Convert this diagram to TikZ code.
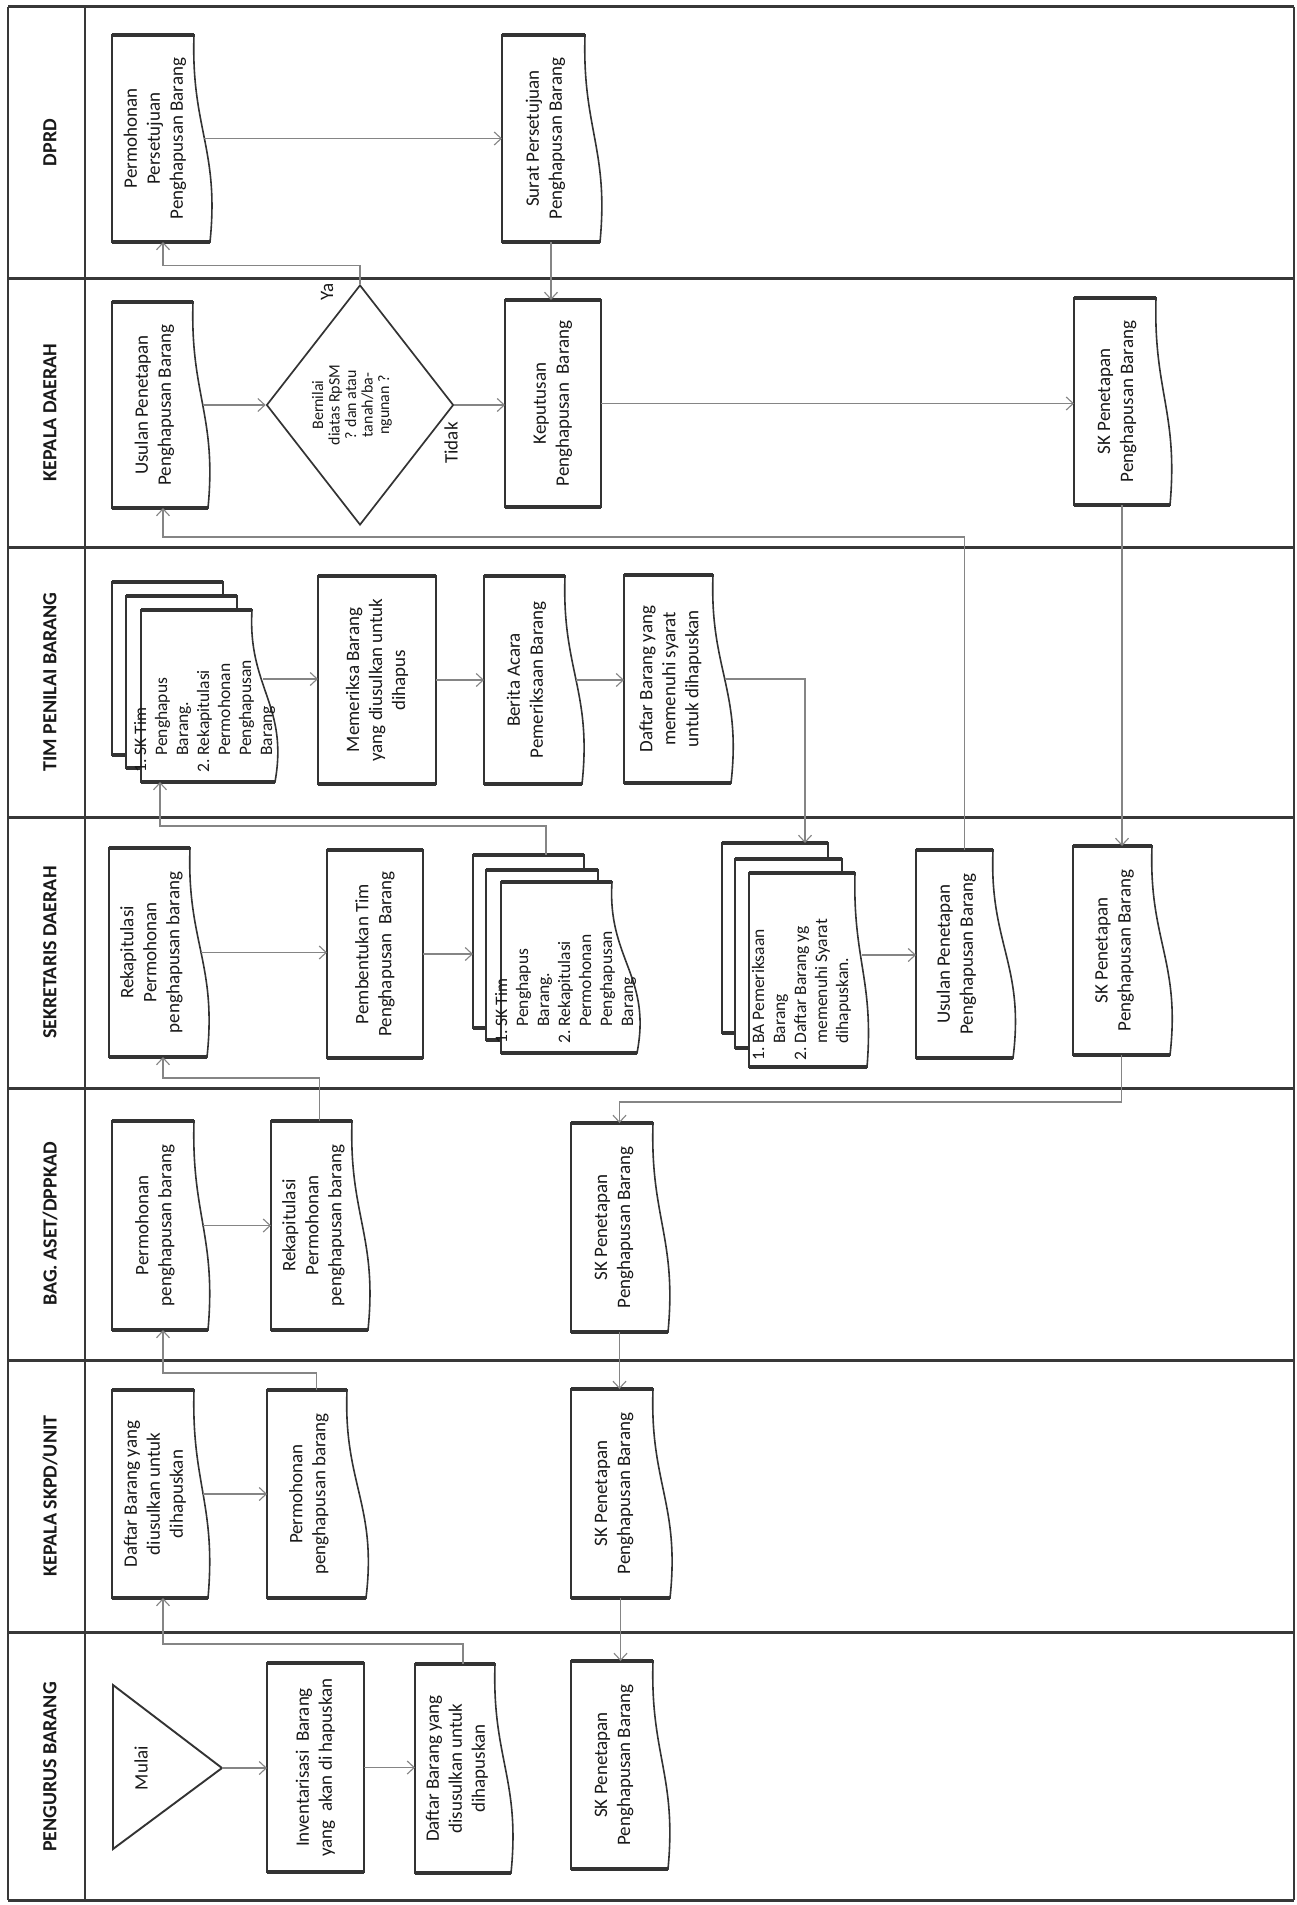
\documentclass[tikz,border=0pt]{standalone}
\usepackage{fontspec}
\setmainfont{Carlito}
\usetikzlibrary{shapes.geometric,arrows.meta,calc}
\definecolor{boxc}{gray}{0.2}
\definecolor{connc}{gray}{0.52}
\definecolor{lanec}{gray}{0.22}
\definecolor{textc}{gray}{0.1}
\tikzset{
 boxline/.style={draw=boxc, line width=1.6pt, fill=white},
 thickedge/.style={draw=boxc, line width=3.4pt},
 conn/.style={draw=connc, line width=1.1pt, -{Straight Barb[length=7pt,width=13pt]}},
 lane/.style={draw=lanec, line width=3pt},
 frame/.style={draw=lanec, line width=1.5pt},
 bnd/.style={inner sep=0pt, outer sep=0pt, draw=none},
 txt/.style={rotate=90, align=center, text=textc, font=\fontsize{19}{23}\selectfont, inner sep=0pt},
 stacktxt/.style={rotate=90, anchor=west, text=textc, font=\fontsize{17.5}{21}\selectfont, inner sep=0pt},
 lanelbl/.style={rotate=90, text=textc, font=\fontsize{20}{24}\selectfont\bfseries, inner sep=0pt},
}
% L R a T B
\newcommand\mydoc[7]{%
  \filldraw[boxline] (#2,#5) -- (#3,#5) .. controls ({#3-0.2*#4},{#5+0.45*(#6-#5)}) and ({#3+1.6*#4},{#5+0.55*(#6-#5)}) .. ({#3+#4},#6) -- (#2,#6) -- cycle;
  \draw[thickedge] (#2,#5) -- (#3,#5);
  \draw[thickedge] (#2,#6) -- ({#3+#4},#6);
  \node[bnd, minimum width={(#3+#4-#2)*1pt}, minimum height={(#6-#5)*1pt}] (#1) at ({(#2+#3+#4)/2},{(#5+#6)/2}) {};
  \coordinate (#1-w) at ({#3+0.65*#4},{(#5+#6)/2});
  \node[txt] (#1-t) at ({(#2+#3)/2+2},{(#5+#6)/2}) {#7};
}
% L R T B
\newcommand\myrect[6]{%
  \filldraw[boxline] (#2,#4) rectangle (#3,#5);
  \draw[thickedge] (#2,#4) -- (#3,#4);
  \draw[thickedge] (#2,#5) -- (#3,#5);
  \node[bnd, minimum width={(#3-#2)*1pt}, minimum height={(#5-#4)*1pt}] (#1) at ({(#2+#3)/2},{(#4+#5)/2}) {};
  \node[txt] (#1-t) at ({(#2+#3)/2},{(#4+#5)/2}) {#6};
}
\newcommand\myplain[5]{%
  \filldraw[boxline] (#2,#4) rectangle (#3,#5);
  \draw[thickedge] (#2,#4) -- (#3,#4);
  \draw[thickedge] (#2,#5) -- (#3,#5);
  \node[bnd, minimum width={(#3-#2)*1pt}, minimum height={(#5-#4)*1pt}] (#1) at ({(#2+#3)/2},{(#4+#5)/2}) {};
}
\begin{document}
\begin{tikzpicture}[x=1pt,y=-1pt]
\useasboundingbox (0,0) rectangle (1297,1905);
\fill[white] (0,0) rectangle (1297,1905);
% swimlanes
\foreach \yy in {278,547,817,1088,1360,1632} \draw[lane] (8,\yy) -- (1294,\yy);
\draw[lane] (8,7) -- (1294,7);
\draw[lane] (8,1900) -- (1294,1900);
\draw[frame] (8,7) -- (8,1900);
\draw[frame] (1294,7) -- (1294,1900);
\draw[frame] (85,7) -- (85,1900);
\node[lanelbl] (lDPRD) at (50,142.5) {DPRD};
\node[lanelbl] (lKD) at (50,412.5) {KEPALA DAERAH};
\node[lanelbl] (lTIM) at (50,682) {TIM PENILAI BARANG};
\node[lanelbl] (lSEK) at (50,952.5) {SEKRETARIS DAERAH};
\node[lanelbl] (lBAG) at (50,1224) {BAG. ASET/DPPKAD};
\node[lanelbl] (lSKPD) at (50,1496) {KEPALA SKPD/UNIT};
\node[lanelbl] (lPENG) at (50,1767) {PENGURUS BARANG};
\coordinate (cx) at (163,0);
\coordinate (cx160) at (160,0);
% DPRD
\mydoc{pmsetuju}{112}{194}{16}{35}{242}{Permohonan\\Persetujuan\\Penghapusan Barang}
\mydoc{surat}{502}{585}{15}{35}{242}{Surat Persetujuan\\Penghapusan Barang}
% KEPALA DAERAH
\mydoc{usulKD}{112}{193}{15}{302}{508}{Usulan Penetapan\\Penghapusan Barang}
\node[diamond, draw=boxc, line width=1.7pt, fill=white, minimum width=187pt, minimum height=240pt, inner sep=0pt] (dec) at (360,405) {};
\node[txt, font=\fontsize{16}{16.5}\selectfont] (dec-t) at (352,405) {Bernilai\\diatas RpSM\\? dan atau\\tanah/ba-\\ngunan ?};
\node[txt] (ya) at (327,292) {Ya};
\node[txt] (tidak) at (451,443) {Tidak};
\myrect{keput}{505}{601}{300}{507}{Keputusan\\Penghapusan\ \ Barang}
\mydoc{skKD}{1074}{1156}{14}{298}{505}{SK Penetapan\\Penghapusan Barang}
% TIM PENILAI
\myplain{st1b}{112}{223}{582}{755}
\myplain{st1m}{126}{237}{596}{768}
\mydoc{st1f}{141}{252}{23}{610}{782}{}
\node[stacktxt] (st1txt) at (205,773) {\begin{tabular}{@{}l@{\ }l@{}}1. & SK Tim\\ & Penghapus\\ & Barang.\\ 2. & Rekapitulasi\\ & Permohonan\\ & Penghapusan\\ & Barang\end{tabular}};
\coordinate (st1f-a) at (263,679);
\myrect{memeriksa}{318}{436}{576}{784}{Memeriksa Barang\\yang diusulkan untuk\\dihapus}
\mydoc{berita}{484}{565}{17}{576}{784}{Berita Acara\\Pemeriksaan Barang}
\mydoc{daftarTIM}{624}{713}{18}{575}{783}{Daftar Barang yang\\memenuhi syarat\\untuk dihapuskan}
% SEKRETARIS DAERAH
\mydoc{rekapSEK}{109}{190}{17}{848}{1057}{Rekapitulasi\\Permohonan\\penghapusan barang}
\myrect{pemb}{327}{423}{850}{1058}{Pembentukan Tim\\Penghapusan\ \ Barang}
\myplain{st2b}{473}{584}{855}{1028}
\myplain{st2m}{486}{598}{870}{1040}
\mydoc{st2f}{501}{612}{25}{882}{1053}{}
\node[stacktxt] (st2txt) at (566,1044) {\begin{tabular}{@{}l@{\ }l@{}}1. & SK Tim\\ & Penghapus\\ & Barang.\\ 2. & Rekapitulasi\\ & Permohonan\\ & Penghapusan\\ & Barang\end{tabular}};
\myplain{stBAb}{722}{828}{843}{1033}
\myplain{stBAm}{735}{842}{859}{1048}
\mydoc{stBAf}{749}{855}{12}{873}{1067}{}
\node[stacktxt] (stBAtxt) at (802,1061) {\begin{tabular}{@{}l@{\ }l@{}}1. & BA Pemeriksaan\\ & Barang\\ 2. & Daftar Barang yg\\ & memenuhi Syarat\\ & dihapuskan.\end{tabular}};
\coordinate (stBA-a) at (862,955);
\mydoc{usulSEK}{916}{993}{20}{850}{1058}{Usulan Penetapan\\Penghapusan Barang}
\mydoc{skSEK}{1073}{1152}{18}{846}{1055}{SK Penetapan\\Penghapusan Barang}
% BAG. ASET
\mydoc{permBAG}{112}{194}{14}{1121}{1330}{Permohonan\\penghapusan barang}
\mydoc{rekapBAG}{271}{352}{16}{1121}{1330}{Rekapitulasi\\Permohonan\\penghapusan barang}
\mydoc{skBAG}{571}{653}{15}{1123}{1332}{SK Penetapan\\Penghapusan Barang}
% KEPALA SKPD
\mydoc{daftarSKPD}{112}{194}{14}{1390}{1598}{Daftar Barang yang\\diusulkan untuk\\dihapuskan}
\mydoc{permSKPD}{267}{347}{19}{1390}{1598}{Permohonan\\penghapusan barang}
\mydoc{skSKPD}{571}{653}{17}{1389}{1598}{SK Penetapan\\Penghapusan Barang}
% PENGURUS BARANG
\filldraw[boxline, line width=1.9pt] (113,1685) -- (222,1768) -- (113,1849) -- cycle;
\node[bnd, minimum width=109pt, minimum height=164pt] (mulai) at (167.5,1768) {};
\node[txt] (mulai-t) at (141,1768) {Mulai};
\myrect{invent}{267}{364}{1663}{1872}{Inventarisasi\ \ Barang\\yang\ \ akan di hapuskan}
\mydoc{daftarPENG}{415}{495}{16}{1664}{1873}{Daftar Barang yang\\disusulkan untuk\\dihapuskan}
\mydoc{skPENG}{571}{653}{15}{1661}{1869}{SK Penetapan\\Penghapusan Barang}
% connectors
\draw[conn] (mulai.east) -- (mulai.east -| invent.west);
\draw[conn] (invent.east) -- (invent.east -| daftarPENG.west);
\draw[conn] (daftarPENG.north) -- ++(0,-20) -| (cx |- daftarSKPD.south);
\draw[conn] (daftarSKPD-w) -- (daftarSKPD-w -| permSKPD.west);
\draw[conn] (permSKPD.north) -- ++(0,-17) -| (cx |- permBAG.south);
\draw[conn] (permBAG-w) -- (permBAG-w -| rekapBAG.west);
\draw[conn] (rekapBAG.north) -- ++(0,-43) -| (cx |- rekapSEK.south);
\draw[conn] (rekapSEK-w) -- (rekapSEK-w -| pemb.west);
\draw[conn] (pemb.east) -- (pemb.east -| st2b.west);
\draw[conn] ($(st2b.north west)+(73,0)$) -- ++(0,-29) -| (cx160 |- st1f.south);
\draw[conn] (st1f-a) -- (st1f-a -| memeriksa.west);
\draw[conn] (memeriksa.east) -- (memeriksa.east -| berita.west);
\draw[conn] (berita-w) -- (berita-w -| daftarTIM.west);
\draw[conn] (daftarTIM-w) -| ($(stBAb.north west)+(83,0)$);
\draw[conn] (stBA-a) -- (stBA-a -| usulSEK.west);
\draw[conn] (usulSEK.north) -- ++(0,-313) -| (cx |- usulKD.south);
\draw[conn] (usulKD-w) -- (usulKD-w -| dec.west);
\draw[conn] (dec.east) -- (dec.east -| keput.west);
\draw[conn] (dec.north) -- ++(0,-19) -| (cx |- pmsetuju.south);
\draw[conn] (pmsetuju-w) -- (pmsetuju-w -| surat.west);
\draw[conn] (surat.south) -- (surat.south |- keput.north);
\draw[conn] (keput.east) -- (keput.east -| skKD.west);
\draw[conn] (skKD.south) -- (skKD.south |- skSEK.north);
\draw[conn] (skSEK.south) -- ++(0,47) -| (skBAG.north);
\draw[conn] (skBAG.south) -- (skBAG.south |- skSKPD.north);
\draw[conn] (skSKPD.south) -- (skSKPD.south |- skPENG.north);
\end{tikzpicture}
\end{document}
